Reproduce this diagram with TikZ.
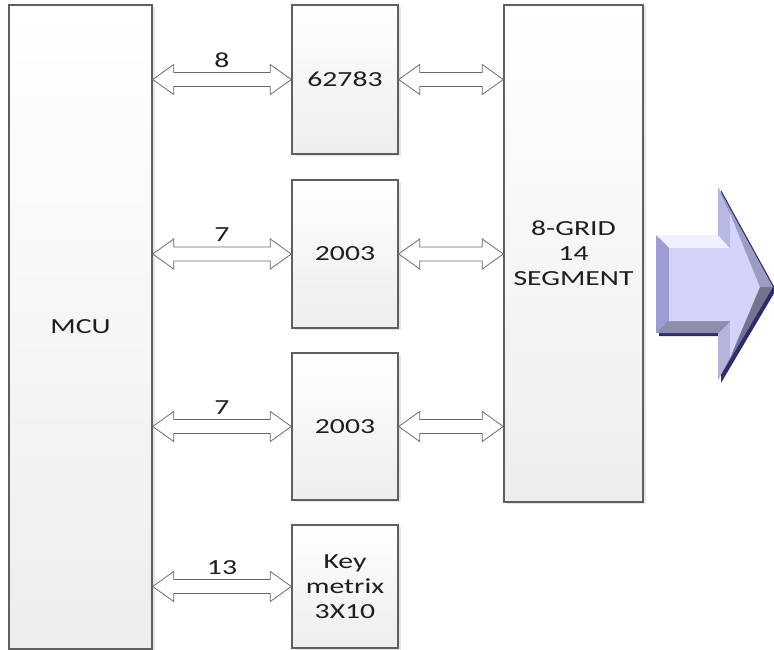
\documentclass[tikz,border=0pt]{standalone}
\usepackage{fontspec}
\setmainfont{Carlito}[FakeStretch=1.38]
\usetikzlibrary{calc,shadows}

\definecolor{boxline}{HTML}{5F5F5F}
\definecolor{txt}{HTML}{1E1E1E}
\definecolor{busline}{HTML}{6A6A6A}
\definecolor{face}{HTML}{D4D4FA}
\definecolor{navy}{HTML}{2C2C6E}
\definecolor{bevleft}{HTML}{9C9CD6}
\definecolor{bevtop}{HTML}{F0F0FF}
\definecolor{bevhup}{HTML}{B8B8E6}
\definecolor{bevdiag}{HTML}{9C9CC4}
\definecolor{bevdiagb}{HTML}{74748E}
\definecolor{bevhlow}{HTML}{B4B4DC}
\definecolor{bevbot}{HTML}{8E8EAC}

\tikzset{
  unit/.style={draw=boxline, line width=1.4pt, top color=white, bottom color=black!7,
    align=center, text=txt, inner sep=0pt,
    drop shadow={shadow xshift=2.5pt, shadow yshift=-2pt, fill=black!10, opacity=1}},
  bus/.style={draw=busline, line width=0.8pt, fill=white},
  lbl/.style={text=txt, inner sep=0pt},
}

% hollow double bus arrow between two named points
\newcommand{\busarrow}[2]{%
  \draw[bus] (#1) -- ($(#1)+(21,-15)$) -- ($(#1)+(21,-7)$) -- ($(#2)+(-21,-7)$)
    -- ($(#2)+(-21,-15)$) -- (#2) -- ($(#2)+(-21,15)$) -- ($(#2)+(-21,7)$)
    -- ($(#1)+(21,7)$) -- ($(#1)+(21,15)$) -- cycle;}

\begin{document}
\begin{tikzpicture}[x=1pt, y=-1pt, font=\fontsize{21.5}{25}\selectfont]
    \useasboundingbox (0,0) rectangle (774,650);

    % Boxes
    \node[unit, minimum width=143, minimum height=644] (mcu) at (80.5,327) {MCU};
    \node[unit, minimum width=106, minimum height=149] (drv) at (345,79.5) {62783};
    \node[unit, minimum width=106, minimum height=148] (dara) at (345,254) {2003};
    \node[unit, minimum width=106, minimum height=147] (darb) at (345,426.5) {2003};
    \node[unit, minimum width=106, minimum height=123] (keys) at (345,586.5) {Key\\metrix\\3X10};
    \node[unit, minimum width=139, minimum height=497] (seg) at (573.5,253.5) {8-GRID\\14\\SEGMENT};

    % Bus end points
    \coordinate (m1) at (mcu.east |- drv.west);
    \coordinate (m2) at (mcu.east |- dara.west);
    \coordinate (m3) at (mcu.east |- darb.west);
    \coordinate (m4) at (mcu.east |- keys.west);
    \coordinate (s1) at (seg.west |- drv.east);
    \coordinate (s2) at (seg.west |- dara.east);
    \coordinate (s3) at (seg.west |- darb.east);

    % Buses
    \busarrow{m1}{drv.west}
    \busarrow{m2}{dara.west}
    \busarrow{m3}{darb.west}
    \busarrow{m4}{keys.west}
    \busarrow{drv.east}{s1}
    \busarrow{dara.east}{s2}
    \busarrow{darb.east}{s3}

    % Labels
    \node[lbl] (w1) at ($(m1)!0.5!(drv.west)+(0,-19)$) {8};
    \node[lbl] (w2) at ($(m2)!0.5!(dara.west)+(0,-19)$) {7};
    \node[lbl] (w3) at ($(m3)!0.5!(darb.west)+(0,-19)$) {7};
    \node[lbl] (w4) at ($(m4)!0.5!(keys.west)+(0,-19)$) {13};

    % Output arrow
    \fill[navy] (659,238) -- (721,238) -- (721,190) -- (776,290)
      -- (721,383) -- (721,336) -- (659,336) -- cycle;
    \fill[bevleft] (656,235) -- (656,333) -- (669,321) -- (669,248) -- cycle;
    \fill[bevtop] (656,235) -- (718,235) -- (730,248) -- (669,248) -- cycle;
    \fill[bevhup] (718,235) -- (718,187) -- (730,213) -- (730,248) -- cycle;
    \fill[bevdiag] (718,187) -- (773,287) -- (760,287) -- (730,213) -- cycle;
    \fill[bevdiagb] (773,287) -- (718,380) -- (730,358) -- (760,287) -- cycle;
    \fill[bevhlow] (718,380) -- (718,333) -- (730,321) -- (730,358) -- cycle;
    \fill[bevbot] (718,333) -- (656,333) -- (669,321) -- (730,321) -- cycle;
    \fill[face] (669,248) -- (730,248) -- (730,213) -- (760,287) -- (730,358) -- (730,321) -- (669,321) -- cycle;
\end{tikzpicture}
\end{document}
